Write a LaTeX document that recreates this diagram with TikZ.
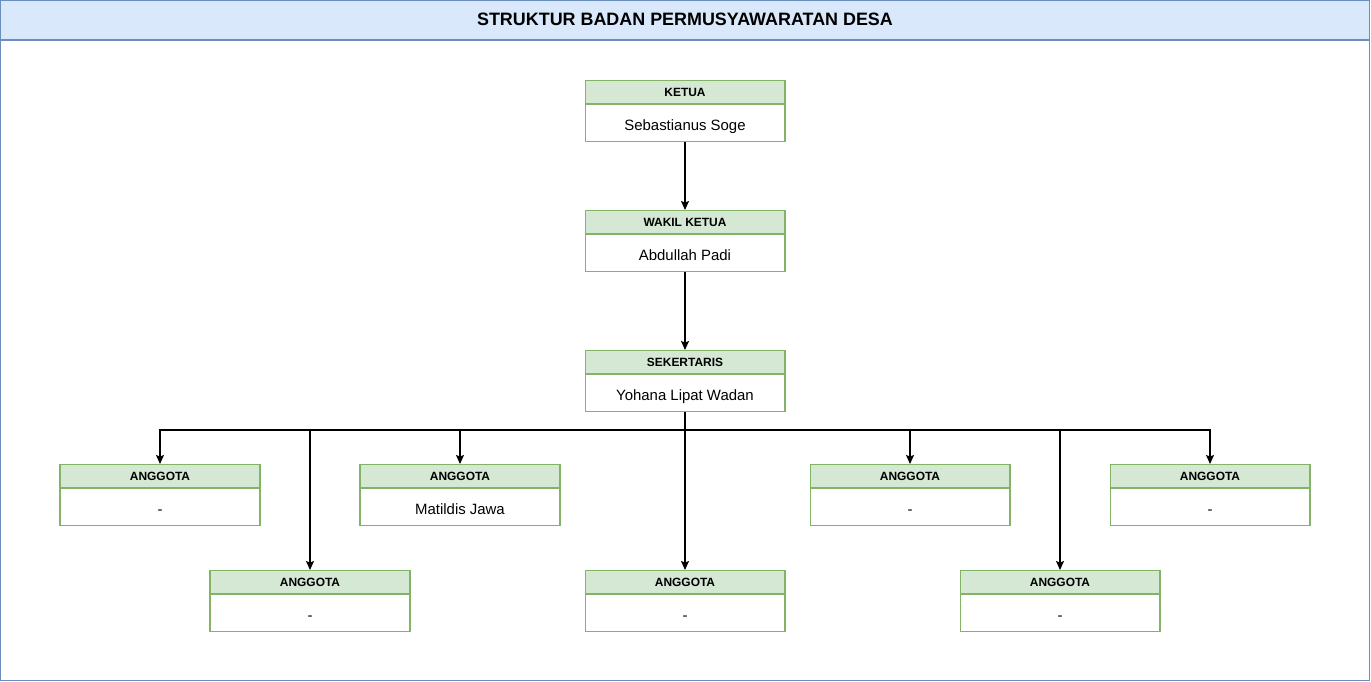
\documentclass[tikz,border=0pt]{standalone}
\usepackage{fontspec}
\setmainfont{Liberation Sans}
\usepackage{xcolor}
\usetikzlibrary{positioning,arrows.meta}
\definecolor{bordhijau}{HTML}{82B366}
\definecolor{isihijau}{HTML}{D5E8D4}
\definecolor{bordbiru}{HTML}{6C8EBF}
\definecolor{isibiru}{HTML}{DAE8FC}

\begin{document}
\begin{tikzpicture}[x=0.02cm,y=-0.02cm, line width=0.6pt,
    kop/.style={draw=bordhijau, fill=isihijau, anchor=north, minimum width=4cm, minimum height=0.46cm, inner sep=0pt, font=\bfseries\fontsize{6.8}{8}\selectfont},
    isi/.style={draw=bordhijau, fill=white, minimum width=4cm, minimum height=0.74cm, inner sep=0pt, text height=9pt, text depth=0pt, font=\fontsize{8.5}{10}\selectfont},
    panah/.style={-{Stealth[length=0.18cm,width=0.16cm,inset=0.03cm]}}]
\useasboundingbox (0,0) rectangle (1371,682);

%%% bingkai
\draw[draw=bordbiru] (0.5,0.5) rectangle (1369.5,680.5);
\draw[draw=bordbiru, fill=isibiru] (0.5,0.5) rectangle (1369.5,40);
\node[font=\bfseries\fontsize{10.2}{12}\selectfont] (judul) at (685,19) {STRUKTUR BADAN PERMUSYAWARATAN DESA};

%%% pimpinan
\node[kop] (ketua-k) at (685,80) {KETUA};
\node[isi, below=0pt of ketua-k] (ketua) {Sebastianus Soge};

\node[kop] (wakil-k) at (685,210) {WAKIL KETUA};
\node[isi, below=0pt of wakil-k] (wakil) {Abdullah Padi};

\node[kop] (sek-k) at (685,350) {SEKERTARIS};
\node[isi, below=0pt of sek-k] (sek) {Yohana Lipat Wadan};

%%% anggota baris atas
\node[kop] (ang1-k) at (160,464) {ANGGOTA};
\node[isi, below=0pt of ang1-k] (ang1) {-};
\node[kop] (ang3-k) at (460,464) {ANGGOTA};
\node[isi, below=0pt of ang3-k] (ang3) {Matildis Jawa};
\node[kop] (ang5-k) at (910,464) {ANGGOTA};
\node[isi, below=0pt of ang5-k] (ang5) {-};
\node[kop] (ang7-k) at (1210,464) {ANGGOTA};
\node[isi, below=0pt of ang7-k] (ang7) {-};

%%% anggota baris bawah
\node[kop] (ang2-k) at (310,570) {ANGGOTA};
\node[isi, below=0pt of ang2-k] (ang2) {-};
\node[kop] (ang4-k) at (685,570) {ANGGOTA};
\node[isi, below=0pt of ang4-k] (ang4) {-};
\node[kop] (ang6-k) at (1060,570) {ANGGOTA};
\node[isi, below=0pt of ang6-k] (ang6) {-};

%%% garis
\draw[panah] (ketua) -- (wakil-k);
\draw[panah] (wakil) -- (sek-k);
\coordinate (cabang) at (685,430);
\draw[panah] (sek) -- (ang4-k);
\foreach \a in {ang1-k,ang2-k,ang3-k,ang5-k,ang6-k,ang7-k}
  \draw[panah] (sek) -- (cabang) -| (\a);
\end{tikzpicture}
\end{document}
